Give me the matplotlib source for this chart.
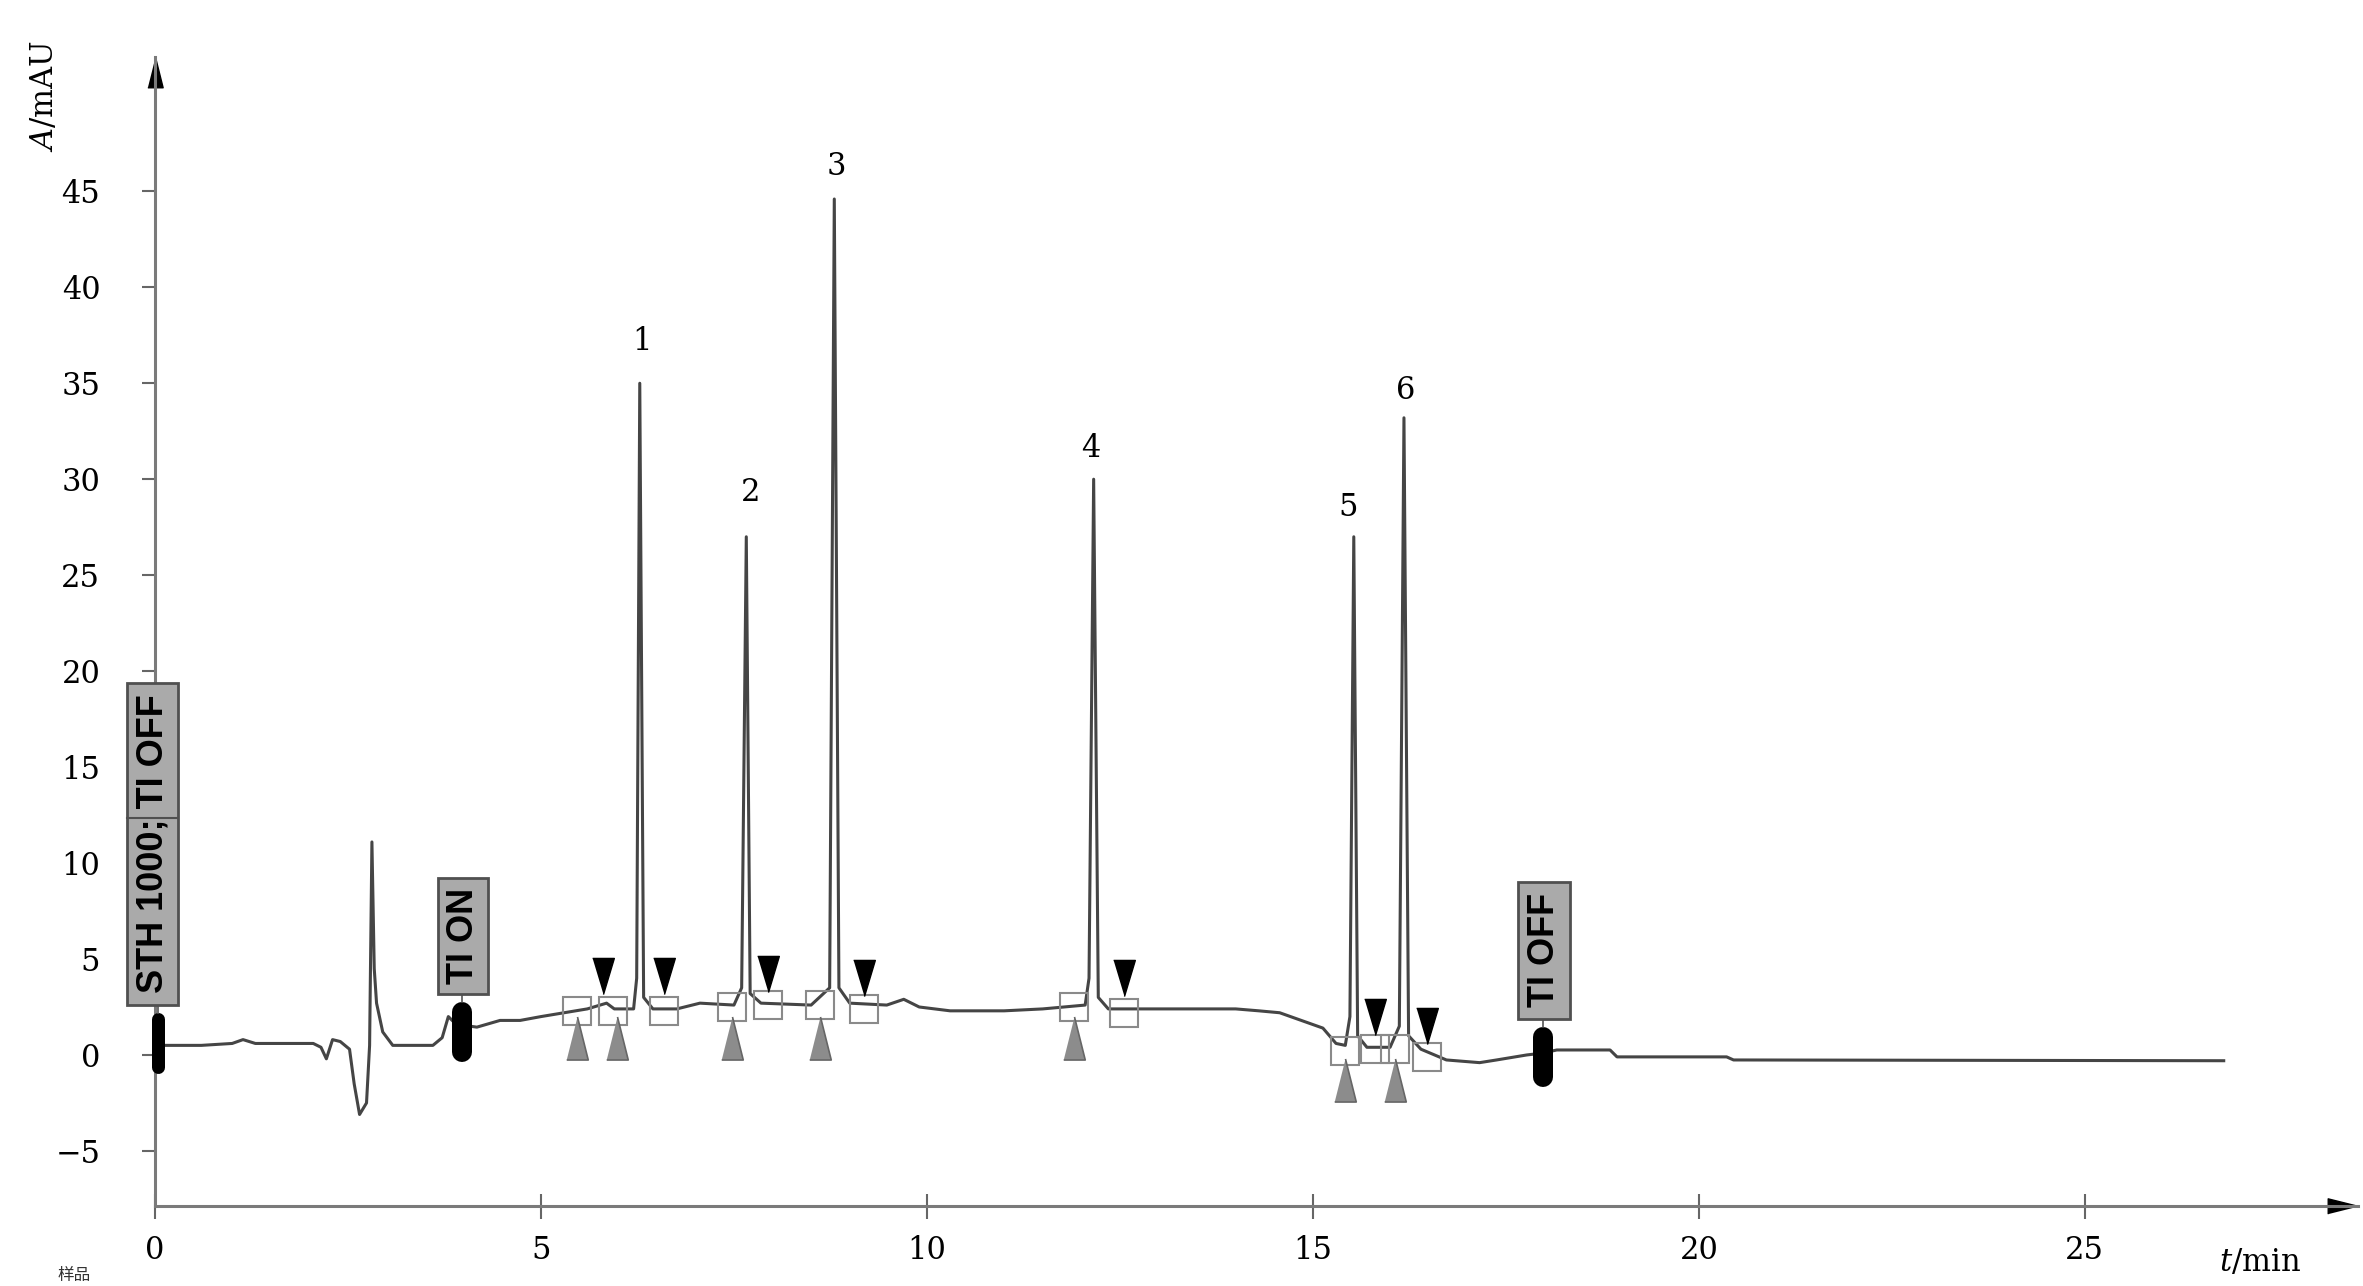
import matplotlib.pyplot as plt
from matplotlib.patches import Rectangle

plt.rcParams['font.family'] = ['DejaVu Serif']
plt.rcParams['mathtext.fontset'] = 'dejavuserif'

# chromatogram trace: time (min), absorbance (mAU)
trace_t = [0.0, 0.16, 0.6, 1.0, 1.14, 1.3, 1.6, 2.05, 2.15, 2.22, 2.3, 2.4, 2.52, 2.58,
           2.65, 2.74, 2.78, 2.81, 2.84, 2.87, 2.95, 3.08, 3.6, 3.72, 3.8, 3.9, 4.17,
           4.47, 4.73, 5.0, 5.3, 5.6, 5.85, 5.95, 6.2, 6.24, 6.28, 6.33, 6.45, 6.76,
           7.06, 7.5, 7.6, 7.66, 7.71, 7.85, 8.5, 8.74, 8.8, 8.86, 9.0, 9.48, 9.7, 9.9,
           10.3, 11.0, 11.5, 12.05, 12.1, 12.16, 12.22, 12.35, 13.0, 14.0, 14.3, 14.57,
           14.92, 15.13, 15.3, 15.42, 15.48, 15.53, 15.58, 15.7, 16.0, 16.12, 16.18,
           16.24, 16.4, 16.73, 17.16, 17.38, 17.77, 17.98, 18.16, 18.85, 18.94, 20.36,
           20.45, 26.8]
trace_a = [0.5, 0.5, 0.5, 0.6, 0.8, 0.6, 0.6, 0.6, 0.4, -0.2, 0.8, 0.7, 0.3, -1.5,
           -3.1, -2.5, 0.5, 11.1, 4.5, 2.7, 1.2, 0.5, 0.5, 0.9, 2.0, 1.6, 1.45,
           1.8, 1.8, 2.0, 2.2, 2.4, 2.7, 2.4, 2.4, 4.0, 35.0, 3.0, 2.4, 2.4,
           2.7, 2.6, 3.5, 27.0, 3.2, 2.7, 2.6, 3.5, 44.6, 3.5, 2.7, 2.6, 2.9, 2.5,
           2.3, 2.3, 2.4, 2.6, 4.0, 30.0, 3.0, 2.4, 2.4, 2.4, 2.3, 2.2,
           1.7, 1.4, 0.6, 0.5, 2.0, 27.0, 1.0, 0.4, 0.4, 1.5, 33.2,
           1.0, 0.3, -0.26, -0.4, -0.26, 0.0, 0.1, 0.26, 0.26, -0.1, -0.1,
           -0.26, -0.3]

peak_ids = ['1', '2', '3', '4', '5', '6']
peak_label_t = [6.31, 7.72, 8.83, 12.12, 15.46, 16.2]
peak_label_a = [37.2, 29.3, 46.3, 31.6, 28.5, 34.6]

# integration marks
start_t = [5.47, 5.98, 7.47, 8.62, 11.9, 15.42, 16.07]
start_a = [0.9, 0.9, 0.9, 0.9, 0.9, -1.3, -1.3]
end_t = [5.8, 6.6, 7.94, 9.19, 12.55, 15.81, 16.48]
end_a = [4.1, 4.1, 4.2, 4.0, 4.0, 2.0, 1.5]
box_t = [5.47, 5.93, 6.6, 7.47, 7.94, 8.62, 9.19, 11.9, 12.55, 15.42, 15.81, 16.07, 16.48]
box_a = [2.3, 2.3, 2.3, 2.5, 2.6, 2.6, 2.4, 2.5, 2.2, 0.2, 0.3, 0.3, -0.1]

# timed events
event_t = [0.04, 3.98, 17.98]
event_top = [2.2, 2.76, 1.46]
event_bot = [-0.94, -0.36, -1.67]
event_text = ['STH 1000; TI OFF', 'TI ON', 'TI OFF']
tag_left = [-0.36, 3.67, 17.66]
tag_right = [0.30, 4.31, 18.33]
tag_bot = [2.6, 3.2, 1.9]
tag_top = [19.4, 9.2, 9.0]

fig = plt.figure(figsize=(23.63, 12.86), dpi=100)
ax = fig.add_axes([0.0656, 0.0622, 0.9323, 0.8935])
ax.set_xlim(0, 28.54)
ax.set_ylim(-7.87, 52.0)

for s in ['top', 'right']:
    ax.spines[s].set_visible(False)
for s in ['left', 'bottom']:
    ax.spines[s].set_color('#7a7a7a')
    ax.spines[s].set_linewidth(2.2)

ax.set_xticks(range(0, 30, 5))
ax.set_yticks(range(-5, 50, 5))
ax.tick_params(axis='y', direction='out', length=9.4, width=1.5, color='#666666',
               pad=30, labelsize=22)
ax.tick_params(axis='x', direction='inout', length=18, width=1.5, color='#666666',
               pad=12, labelsize=22)

# axis arrowheads
up_arrow = [(-0.25, -0.5), (0.25, -0.5), (0, 0.5)]
right_arrow = [(-0.5, -0.25), (-0.5, 0.25), (0.5, 0)]
ax.plot(0, 0.987, marker=up_arrow, ms=22, color='k', transform=ax.transAxes, clip_on=False)
ax.plot(0.993, 0, marker=right_arrow, ms=22, color='k', transform=ax.transAxes, clip_on=False)

ax.plot(trace_t, trace_a, color='#454545', lw=2.2, zorder=2)

for pid, t, a in zip(peak_ids, peak_label_t, peak_label_a):
    ax.text(t, a, pid, ha='center', va='center', fontsize=22)

up_tri = [(-0.25, -0.5), (0.25, -0.5), (0, 0.5)]
down_tri = [(-0.3, 0.5), (0.3, 0.5), (0, -0.5)]
ax.plot(box_t, box_a, ls='none', marker='s', ms=20, mfc='none', mec='#8a8a8a', mew=1.5, zorder=3)
ax.plot(start_t, start_a, ls='none', marker=up_tri, ms=31, mfc='#8c8c8c', mec='#666666',
        mew=1.2, zorder=4, clip_on=False)
ax.plot(end_t, end_a, ls='none', marker=down_tri, ms=26, mfc='black', mec='black', zorder=4)

for i, t in enumerate(event_t):
    lw_px = 13 if i == 0 else 20
    cap = lw_px / 2 / 19.18
    ax.plot([t, t], [event_bot[i] + cap, event_top[i] - cap], color='black',
            lw=lw_px * 0.72, solid_capstyle='round', zorder=5, clip_on=False)
    ax.plot([t, t], [event_top[i], tag_bot[i]], color='#555555', lw=1.2, zorder=5)
    ax.add_patch(Rectangle((tag_left[i], tag_bot[i]), tag_right[i] - tag_left[i],
                           tag_top[i] - tag_bot[i], facecolor='#aaaaaa',
                           edgecolor='#505050', lw=2, zorder=6, clip_on=False))
    ax.text((tag_left[i] + tag_right[i]) / 2, (tag_bot[i] + tag_top[i]) / 2,
            event_text[i], rotation=90, ha='center', va='center',
            family='Liberation Sans', weight='bold', fontsize=26, zorder=7)

# divider inside the first tag
ax.plot([tag_left[0], tag_right[0]], [12.36, 12.36], color='#505050', lw=1.5,
        zorder=6.5, clip_on=False)

fig.text(45 / 2363, 1 - 96 / 1286, '$A$/mAU', rotation=90, ha='center', va='center',
         fontsize=22)
fig.text(2260 / 2363, 1 - 1263 / 1286, '$t$/min', ha='center', va='center', fontsize=22)
fig.text(58 / 2363, 2 / 1286, '样品', family=['Noto Sans CJK SC', 'DejaVu Sans'],
         fontsize=12, va='bottom', ha='left', color='#333333')

fig.savefig('out.png', dpi=100)
